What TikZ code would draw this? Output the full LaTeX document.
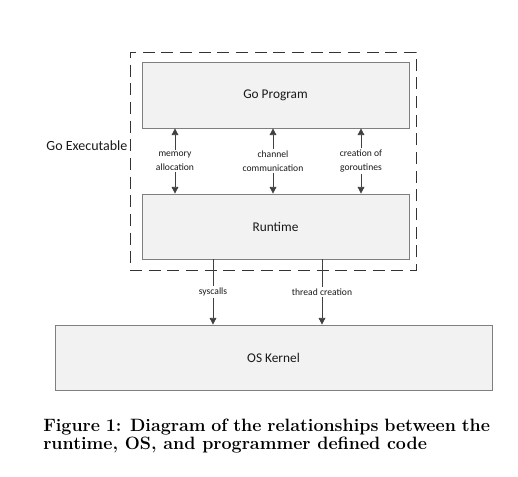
\documentclass[tikz,border=0pt]{standalone}
\usepackage{fontspec}
\newfontfamily\boxfont{Carlito}
\usetikzlibrary{arrows.meta,shadows}
\definecolor{linegray}{HTML}{404040}
\definecolor{boxline}{HTML}{7F7F7F}
\definecolor{boxfill}{HTML}{F2F2F2}
\tikzset{
  blockbox/.style={draw=boxline, line width=0.6pt, fill=boxfill, font=\boxfont\fontsize{10}{12}\selectfont, text=black!90,
    drop shadow={shadow xshift=0.8pt, shadow yshift=-0.8pt, opacity=0.25, fill=black}},
  dashbox/.style={draw=black!80, line width=0.6pt, dash pattern=on 9pt off 5pt},
  lbl/.style={font=\boxfont\fontsize{7.2}{10.5}\selectfont, align=center, inner sep=1pt, text=black!90},
  arr/.style={draw=linegray, line width=0.6pt, -{Triangle[length=5pt,width=5pt]}},
  plain/.style={draw=linegray, line width=0.6pt}
}
\begin{document}
\begin{tikzpicture}[x=0.75pt,y=-0.75pt]
\useasboundingbox (0,0) rectangle (518,476);
\node[dashbox, minimum width=214.5pt, minimum height=163.5pt, inner sep=0pt] (exe) at (273,161) {};
\node[blockbox, minimum width=200.25pt, minimum height=49.5pt, inner sep=0pt] (gp) at (275.5,95) {Go Program};
\node[blockbox, minimum width=200.25pt, minimum height=48.75pt, inner sep=0pt] (rt) at (275.5,226.5) {Runtime};
\node[blockbox, minimum width=327.75pt, minimum height=48.75pt, inner sep=0pt] (os) at (273.5,357.5) {OS Kernel};
\node[font=\boxfont\fontsize{10.5}{12}\selectfont, anchor=east, inner sep=1pt, text=black!90] (exelbl) at (129,146) {Go Executable};
\node[lbl] (ma) at (175,161) {memory\\allocation};
\node[lbl] (cc) at (273,161) {channel\\communication};
\node[lbl] (cg) at (361,161) {creation of\\goroutines};
\foreach \n in {ma,cc,cg}{
  \draw[arr] (\n.north) -- (\n.north |- gp.south);
  \draw[arr] (\n.south) -- (\n.south |- rt.north);
}
\node[lbl] (sc) at (213,292) {syscalls};
\node[lbl] (tc) at (322,292) {thread creation};
\draw[plain] (sc.north |- rt.south) -- (sc.north);
\draw[arr] (sc.south) -- (sc.south |- os.north);
\draw[plain] (tc.north |- rt.south) -- (tc.north);
\draw[arr] (tc.south) -- (tc.south |- os.north);
\node[anchor=north west, inner sep=0pt, align=left, font=\fontsize{13.4}{13.5}\selectfont\bfseries] (cap) at (43,419)
  {\makebox[335pt][s]{Figure 1: Diagram of the relationships between the}\\runtime, OS, and programmer defined code};
\end{tikzpicture}
\end{document}
